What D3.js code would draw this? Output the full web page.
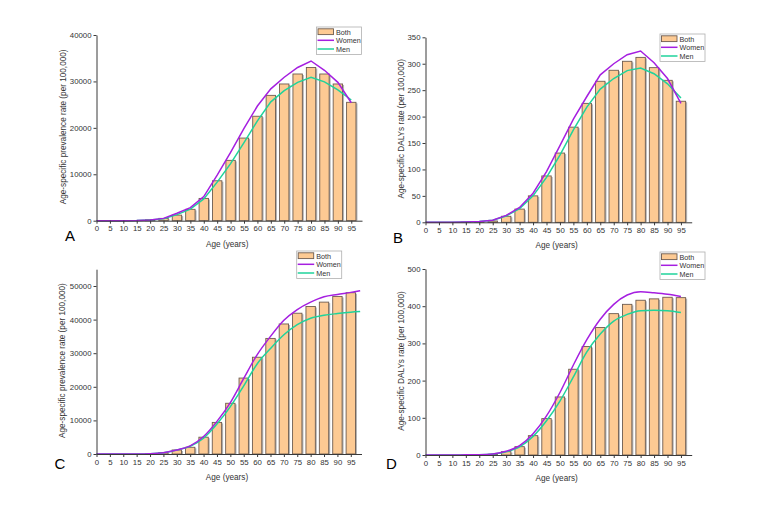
<!DOCTYPE html>
<html>
<head>
<meta charset="utf-8">
<script src="https://cdn.jsdelivr.net/npm/d3@7"></script>
<style>
  body { margin: 0; background: #fff; }
  svg { display: block; font-family: "Liberation Sans", Arial, sans-serif; }
</style>
</head>
<body>
<svg id="chart" width="760" height="531"></svg>
<script>
// ---------- data ----------
const ages = [0,5,10,15,20,25,30,35,40,45,50,55,60,65,70,75,80,85,90,95];
const xTickLabels = ages.map(String);
const seriesNames = ["Both", "Women", "Men"];

// Panel A: prevalence, period 1
const prevA_both  = [0,0,0,0,200,500,1200,2450,4800,8600,13000,17800,22500,27000,29450,31600,33000,31600,29450,25500];
const prevA_women = [0,0,0,20,150,500,1600,2800,5200,9800,14700,19900,24700,28400,30900,33000,34400,32400,29800,25400];
const prevA_men   = [0,0,0,20,150,400,1300,2500,4700,8300,12300,16800,21500,25600,28000,29800,30900,29900,28200,26000];

// Panel B: DALYs, period 1
const dalyB_both  = [0,0,0,0.5,1.5,2.5,11.4,25,50,87.7,131,180,225,266.8,287.6,304.6,312,292.6,268.6,229];
const dalyB_women = [0,0,0,0.5,1.5,4,13,28,55,96,145,195,238,279,300,317,324,302,272,225];
const dalyB_men   = [0,0,0,0.5,1.5,4,12,26,50,85,127,175,218,252,272,287,292,281,262,235];

// Panel C: prevalence, period 2 (lines run to 98.5)
const lineAgesC = [0,5,10,15,20,25,30,35,40,45,50,55,60,65,70,75,80,85,90,95,98.5];
const prevC_both  = [0,0,0,0,100,400,1200,2000,5000,9400,15100,22600,28800,34400,38700,41900,43900,45200,46900,48000];
const prevC_women = [0,0,0,20,100,400,1200,2400,5200,9700,15300,22500,29500,35000,39800,43000,45200,46800,47500,48100,48600];
const prevC_men   = [0,0,0,20,100,400,1200,2300,4700,8900,14100,20300,26800,31400,35500,38500,40400,41300,41800,42200,42400];

// Panel D: DALYs, period 2
const dalyD_both  = [0,0,0,0.5,1,2,9,22.4,52,97.8,156,230.5,291.5,342.6,380,405,416,419.7,424,423];
const dalyD_women = [0,0,0,0.5,1,3,10,25,57,105,168,242,310,365,405,430,439,436,432,426];
const dalyD_men   = [0,0,0,0.5,1,3,9,22,50,92,145,210,277,325,360,378,388,389,388,383];

const prevTitle = "Age-specific prevalence rate (per 100,000)";
const dalyTitle = "Age-specific DALYs rate (per 100,000)";
const xTitle = "Age (years)";

const panels = [
  {label:"A", both:prevA_both, women:prevA_women, men:prevA_men, lineAges:ages, yMax:40000, yTicks:[0,10000,20000,30000,40000], yTitle:prevTitle,
   left:96.5, right:362, top:35, bottom:220.7, curve:d3.curveLinear, legend:[316.5,27], labelPos:[65,241], yTitleX:63},
  {label:"B", both:dalyB_both, women:dalyB_women, men:dalyB_men, lineAges:ages, yMax:350, yTicks:[0,50,100,150,200,250,300,350], yTitle:dalyTitle,
   left:425.5, right:691.7, top:37.3, bottom:222.3, curve:d3.curveLinear, legend:[660,34], labelPos:[393,243.3], yTitleX:400.7},
  {label:"C", both:prevC_both, women:prevC_women, men:prevC_men, lineAges:lineAgesC, yMax:55000, yTicks:[0,10000,20000,30000,40000,50000], yTitle:prevTitle,
   left:96.5, right:361.5, top:269.2, bottom:454, curve:d3.curveMonotoneX, legend:[296.7,251], labelPos:[54.5,469.3], yTitleX:62.3},
  {label:"D", both:dalyD_both, women:dalyD_women, men:dalyD_men, lineAges:ages, yMax:500, yTicks:[0,100,200,300,400,500], yTitle:dalyTitle,
   left:425.5, right:691.7, top:269, bottom:455, curve:d3.curveMonotoneX, legend:[660,252], labelPos:[386,469], yTitleX:400.7}
];

const colors = { bothFill:"#fdca93", bothStroke:"#6e5c50", shadow:"#b4b4b4", women:"#a51fe0", men:"#1fd39b", axis:"#3a3a3a", text:"#333" };

const svg = d3.select("#chart");

panels.forEach(p => {
  const g = svg.append("g");
  const x = d3.scaleLinear().domain([0, 99]).range([p.left, p.right]);
  const y = d3.scaleLinear().domain([0, p.yMax]).range([p.bottom, p.top]);
  const step = x(5) - x(0);
  const bw = step * 0.7;

  // bars with shadow
  const bars = g.append("g");
  bars.selectAll("rect.shadow").data(ages.slice(0, p.both.length)).join("rect")
    .attr("class","shadow")
    .attr("x", (d) => x(d) - bw/2 + 1.5)
    .attr("y", (d,i) => y(p.both[i]) + 1)
    .attr("width", bw)
    .attr("height", (d,i) => Math.max(0, y(0) - y(p.both[i]) - 1))
    .attr("fill", colors.shadow);
  bars.selectAll("rect.bar").data(ages.slice(0, p.both.length)).join("rect")
    .attr("class","bar")
    .attr("x", (d) => x(d) - bw/2)
    .attr("y", (d,i) => y(p.both[i]))
    .attr("width", bw)
    .attr("height", (d,i) => y(0) - y(p.both[i]))
    .attr("fill", colors.bothFill)
    .attr("stroke", colors.bothStroke)
    .attr("stroke-width", 0.9);

  // lines
  const line = d3.line().x((d,i) => x(p.lineAges[i])).y(d => y(d)).curve(p.curve);
  g.append("path").datum(p.men).attr("d", line).attr("fill","none").attr("stroke", colors.men).attr("stroke-width", 1.5);
  g.append("path").datum(p.women).attr("d", line).attr("fill","none").attr("stroke", colors.women).attr("stroke-width", 1.5);

  // axes
  const xAxis = d3.axisBottom(x).tickValues(ages).tickFormat((d,i) => xTickLabels[i]).tickSize(3).tickSizeOuter(0).tickPadding(2);
  const xg = g.append("g").attr("transform", `translate(0,${p.bottom})`).call(xAxis);
  const yAxis = d3.axisLeft(y).tickValues(p.yTicks).tickFormat(d3.format("d")).tickSize(3).tickSizeOuter(0).tickPadding(2);
  const yg = g.append("g").attr("transform", `translate(${p.left},0)`).call(yAxis);
  [xg, yg].forEach(a => {
    a.select(".domain").attr("stroke", colors.axis).attr("stroke-width", 1);
    a.selectAll(".tick line").attr("stroke", colors.axis);
    a.selectAll(".tick text").attr("fill", colors.text).attr("font-size", 7.8).attr("font-family", "Liberation Sans, Arial, sans-serif");
  });

  // titles
  g.append("text").attr("x", (p.left + p.right)/2 - 2).attr("y", p.bottom + 26)
    .attr("text-anchor","middle").attr("font-size", 8.2).attr("fill", colors.text).text(xTitle);
  g.append("text").attr("transform", `translate(${p.yTitleX + 3},${(p.top + p.bottom)/2 - 1}) rotate(-90)`)
    .attr("text-anchor","middle").attr("font-size", 8.2).attr("fill", colors.text).text(p.yTitle);

  // panel label
  g.append("text").attr("x", p.labelPos[0]).attr("y", p.labelPos[1])
    .attr("font-size", 15).attr("fill", "#000").text(p.label);

  // legend
  const [lx, ly] = p.legend;
  const lg = g.append("g").attr("transform", `translate(${lx},${ly})`);
  lg.append("rect").attr("x",0).attr("y",0).attr("width",45).attr("height",27.5)
    .attr("fill","#fff").attr("stroke","#b0b0b0").attr("stroke-width",0.8);
  lg.append("rect").attr("x",1.5).attr("y",1.8).attr("width",15.5).attr("height",5.8)
    .attr("fill", colors.bothFill).attr("stroke", colors.bothStroke).attr("stroke-width",0.9);
  lg.append("line").attr("x1",1).attr("x2",17.5).attr("y1",13.3).attr("y2",13.3).attr("stroke", colors.women).attr("stroke-width",1.5);
  lg.append("line").attr("x1",1).attr("x2",17.5).attr("y1",22).attr("y2",22).attr("stroke", colors.men).attr("stroke-width",1.5);
  const legendColors = [null, colors.women, colors.men];
  seriesNames.forEach((n, i) => {
    lg.append("text").attr("x", 19.5).attr("y", 7.6 + i*8.7).attr("font-size", 7.2).attr("fill", colors.text).text(n);
  });
});
</script>
</body>
</html>
